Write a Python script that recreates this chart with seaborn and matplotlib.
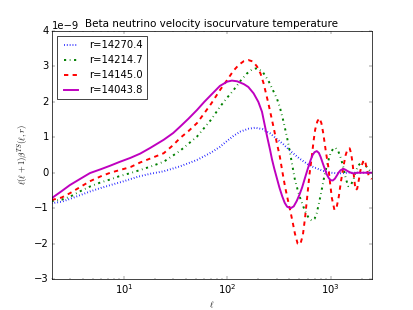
import numpy as np
import pandas as pd
import matplotlib
matplotlib.use("Agg")
import matplotlib.pyplot as plt
import seaborn as sns

# values, in units of 1e-9
ell_blue = [2, 2.5, 3, 3.8, 4.7, 6, 7.4, 10, 13.8, 18, 24.3, 35, 51, 70, 85, 100, 115,
            134, 160, 187, 220, 260, 300, 350, 406, 500, 630, 845, 1000, 1200, 1500,
            2000, 2500]
val_blue = [-0.86, -0.82, -0.74, -0.63, -0.53, -0.43, -0.35, -0.24, -0.11, -0.03, 0.04,
            0.18, 0.36, 0.57, 0.73, 0.9, 1.04, 1.16, 1.24, 1.27, 1.23, 1.11, 0.96, 0.8,
            0.62, 0.4, 0.2, 0.05, 0.0, -0.02, 0.0, 0.0, 0.0]

ell_green = [2, 2.5, 3, 3.8, 4.7, 6, 7.4, 9, 11.6, 13.8, 18, 24.3, 35, 51, 70, 85, 100,
             115, 135, 155, 175, 195, 220, 250, 280, 302, 323, 350, 380, 406, 430, 452,
             480, 506, 565, 620, 658, 700, 735, 780, 820, 870, 920, 1000, 1064, 1120,
             1190, 1260, 1330, 1400, 1480, 1570, 1670, 1760, 1850, 2000, 2120, 2250,
             2500]
val_green = [-0.8, -0.76, -0.68, -0.52, -0.39, -0.27, -0.19, -0.1, -0.01, 0.06, 0.17,
             0.31, 0.62, 1.02, 1.5, 1.86, 2.12, 2.33, 2.6, 2.8, 2.92, 2.95, 2.85, 2.6,
             2.3, 2.1, 1.85, 1.45, 0.98, 0.55, 0.15, -0.2, -0.48, -0.7, -1.08, -1.3,
             -1.35, -1.3, -1.14, -0.8, -0.49, -0.1, 0.2, 0.55, 0.69, 0.7, 0.6, 0.4, 0.15,
             -0.15, -0.38, -0.35, -0.18, 0.05, 0.2, 0.3, 0.27, 0.15, 0.0]

ell_red = [2, 2.5, 3, 3.8, 4.7, 6, 7.4, 9, 11.6, 14.4, 18, 24.3, 30, 35, 42, 51, 60, 70,
           85, 100, 115, 130, 145, 160, 177, 194, 210, 225, 250, 280, 300, 323, 343,
           363, 385, 406, 430, 452, 480, 510, 540, 565, 590, 625, 658, 685, 710, 745,
           780, 815, 850, 900, 950, 990, 1030, 1090, 1140, 1200, 1260, 1330, 1400,
           1450, 1530, 1580, 1630, 1670, 1720, 1760, 1810, 1850, 1900, 1940, 2000,
           2090, 2170, 2250, 2350, 2500]
val_red = [-0.77, -0.7, -0.58, -0.4, -0.24, -0.1, 0.0, 0.07, 0.16, 0.29, 0.4, 0.55,
           0.78, 0.98, 1.17, 1.4, 1.68, 1.95, 2.33, 2.62, 2.88, 3.05, 3.15, 3.18, 3.14,
           3.0, 2.8, 2.52, 1.96, 1.3, 0.88, 0.45, 0.0, -0.4, -0.75, -1.05, -1.4, -1.72,
           -2.0, -2.02, -1.75, -1.3, -0.77, -0.05, 0.45, 0.9, 1.22, 1.45, 1.54, 1.4,
           1.11, 0.6, 0.17, -0.3, -0.72, -1.05, -1.0, -0.68, -0.25, 0.17, 0.5, 0.64,
           0.69, 0.55, 0.28, -0.01, -0.35, -0.49, -0.45, -0.3, -0.12, 0.05, 0.2, 0.36,
           0.3, 0.08, -0.1, -0.18]

ell_mag = [2, 2.5, 3, 3.8, 4.7, 6, 7.4, 9, 11.6, 14.4, 18, 24.3, 30, 35, 42, 51, 60,
           70, 85, 100, 111, 125, 145, 160, 180, 200, 217, 242, 260, 271, 285, 300,
           320, 340, 360, 380, 412, 440, 470, 500, 530, 565, 600, 640, 670, 700, 735,
           770, 800, 840, 880, 920, 960, 1000, 1050, 1100, 1150, 1200, 1250, 1330,
           1400, 1450, 1520, 1600, 1700, 1800, 2100, 2500]
val_mag = [-0.72, -0.52, -0.35, -0.17, -0.01, 0.1, 0.2, 0.3, 0.42, 0.54, 0.7, 0.93, 1.12,
           1.3, 1.52, 1.77, 2.0, 2.2, 2.45, 2.57, 2.6, 2.58, 2.5, 2.42, 2.24, 2.0, 1.72,
           1.05, 0.64, 0.38, 0.12, -0.12, -0.42, -0.66, -0.85, -0.96, -1.0, -0.95, -0.8,
           -0.62, -0.42, -0.15, 0.1, 0.35, 0.5, 0.58, 0.61, 0.56, 0.45, 0.27, 0.1,
           -0.05, -0.15, -0.21, -0.22, -0.17, -0.08, 0.01, 0.07, 0.11, 0.08, 0.05, 0.02,
           -0.01, -0.02, 0.0, 0.0, 0.0]

labels = ["r=14270.4", "r=14214.7", "r=14145.0", "r=14043.8"]
colors = ["b", "g", "r", "m"]
styles = [":", "-.", "--", "-"]

plt.style.use("classic")
dpi = 51.625
fig, ax = plt.subplots(figsize=(8, 310 / dpi), dpi=dpi)

curves = [(ell_blue, val_blue), (ell_green, val_green), (ell_red, val_red), (ell_mag, val_mag)]
for (ell, val), lab, c, ls in zip(curves, labels, colors, styles):
    df = pd.DataFrame({"ell": ell, "cl": np.array(val) * 1e-9})
    sns.lineplot(data=df, x="ell", y="cl", ax=ax, color=c, linestyle=ls,
                 linewidth=2.7, label=lab, estimator=None)

ax.set_xscale("log")
ax.set_xlim(2, 2500)
ax.set_ylim(-3e-9, 4e-9)
ax.tick_params(labelsize=14)
ax.yaxis.get_offset_text().set_fontsize(14)
ax.set_title("Beta neutrino velocity isocurvature temperature", fontsize=14.4)
ax.set_xlabel(r"$\ell$", fontsize=12)
ax.set_ylabel(r"$\ell(\ell+1)\beta^{TS}(\ell,r)$", fontsize=12)
ax.legend(loc="upper left", fontsize=14)

fig.savefig("out.png", dpi=dpi)
